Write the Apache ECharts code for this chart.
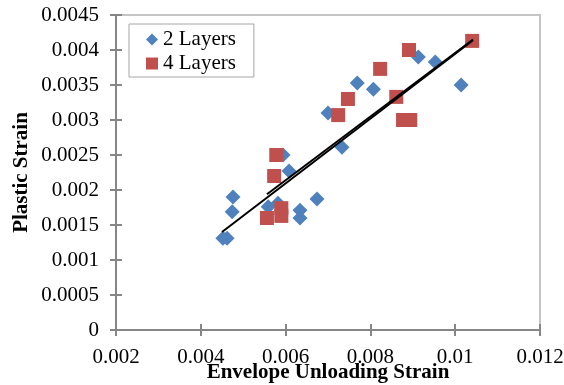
<!DOCTYPE html>
<html>
<head>
<meta charset="utf-8">
<script src="https://cdn.jsdelivr.net/npm/echarts@6/dist/echarts.min.js"></script>
<style>
  html, body { margin: 0; padding: 0; background: #fff; }
  #chart { width: 564px; height: 385px; }
</style>
</head>
<body>
<div id="chart"></div>
<script>
// Envelope unloading strain (x) vs plastic strain (y)
const layers2X = [0.00452, 0.00462, 0.00476, 0.00474, 0.00559, 0.00582, 0.00634, 0.00634, 0.00674,
                  0.00594, 0.00608, 0.00700, 0.00733, 0.00769, 0.00807, 0.00913, 0.00953, 0.01014];
const layers2Y = [0.00131, 0.00131, 0.00190, 0.00169, 0.00176, 0.00181, 0.00171, 0.00160, 0.00187,
                  0.00250, 0.00227, 0.00310, 0.00261, 0.00353, 0.00344, 0.00390, 0.00383, 0.00350];

const layers4X = [0.00556, 0.00590, 0.00590, 0.00578, 0.00573, 0.00724, 0.00747, 0.00823, 0.00861,
                  0.00877, 0.00894, 0.00891, 0.01040];
const layers4Y = [0.00160, 0.00174, 0.00163, 0.00250, 0.00220, 0.00307, 0.00330, 0.00373, 0.00333,
                  0.00300, 0.00300, 0.00400, 0.00413];

// Linear trend lines (start and end of each fit)
const trendAllX = [0.00450, 0.01042];
const trendAllY = [0.00140, 0.00414];
const trend4X = [0.00556, 0.01042];
const trend4Y = [0.00194, 0.00415];

const xTicks = { min: 0.002, max: 0.012, step: 0.002 };
const yTicks = { min: 0, max: 0.0045, step: 0.0005 };

const pairs = (xs, ys) => xs.map((x, i) => [x, ys[i]]);
const fmt = v => String(parseFloat(Number(v).toFixed(6)));

const FONT = '"Liberation Serif", "Times New Roman", serif';
const AXIS_GRAY = '#868686';

const chart = echarts.init(document.getElementById('chart'), null, { renderer: 'canvas' });

const baseX = {
  type: 'value', min: xTicks.min, max: xTicks.max, interval: xTicks.step,
  splitLine: { show: false }
};
const baseY = {
  type: 'value', min: yTicks.min, max: yTicks.max, interval: yTicks.step,
  splitLine: { show: false }
};

chart.setOption({
  animation: false,
  backgroundColor: '#fff',
  grid: {
    left: 116, top: 15, right: 24, bottom: 55,
    containLabel: false, outerBoundsMode: 'none',
    show: true, borderColor: '#c4c4c4', borderWidth: 2, backgroundColor: 'transparent'
  },
  legend: {
    orient: 'vertical', left: 129, top: 24,
    padding: [5, 18, 3, 17],
    itemGap: 3, itemWidth: 12, itemHeight: 12,
    borderColor: '#a6a6a6', borderWidth: 1, backgroundColor: '#fff',
    textStyle: { fontFamily: FONT, fontSize: 21, color: '#000', lineHeight: 21 },
    data: [
      { name: '2 Layers', icon: 'diamond' },
      { name: '4 Layers', icon: 'rect' }
    ]
  },
  xAxis: [
    Object.assign({}, baseX, {
      position: 'bottom',
      name: 'Envelope Unloading Strain', nameLocation: 'middle', nameGap: 32,
      nameMoveOverlap: false,
      nameTextStyle: { fontFamily: FONT, fontSize: 21, fontWeight: 'bold', color: '#000' },
      axisLine: { show: true, lineStyle: { color: AXIS_GRAY, width: 2 } },
      axisTick: { show: true, inside: false, length: 6, lineStyle: { color: AXIS_GRAY, width: 2 } },
      axisLabel: { fontFamily: FONT, fontSize: 21, color: '#000', margin: 17, formatter: fmt }
    }),
    Object.assign({}, baseX, {
      position: 'bottom',
      axisLine: { show: false },
      axisTick: { show: true, inside: true, length: 6, lineStyle: { color: AXIS_GRAY, width: 2 } },
      axisLabel: { show: false }
    })
  ],
  yAxis: [
    Object.assign({}, baseY, {
      position: 'left',
      name: 'Plastic Strain', nameLocation: 'middle', nameGap: 84,
      nameMoveOverlap: false,
      nameTextStyle: { fontFamily: FONT, fontSize: 21, fontWeight: 'bold', color: '#000' },
      axisLine: { show: true, lineStyle: { color: AXIS_GRAY, width: 2 } },
      axisTick: { show: true, inside: false, length: 6, lineStyle: { color: AXIS_GRAY, width: 2 } },
      axisLabel: { fontFamily: FONT, fontSize: 21, color: '#000', margin: 17, formatter: fmt }
    }),
    Object.assign({}, baseY, {
      position: 'left',
      axisLine: { show: false },
      axisTick: { show: true, inside: true, length: 6, lineStyle: { color: AXIS_GRAY, width: 2 } },
      axisLabel: { show: false }
    })
  ],
  series: [
    {
      name: '2 Layers', type: 'scatter', symbol: 'diamond', symbolSize: 15,
      itemStyle: { color: '#4F81BD', opacity: 1 }, z: 3,
      data: pairs(layers2X, layers2Y)
    },
    {
      name: '4 Layers', type: 'scatter', symbol: 'rect', symbolSize: 14,
      itemStyle: { color: '#C0504D', opacity: 1 }, z: 4,
      data: pairs(layers4X, layers4Y)
    },
    {
      name: 'trendAll', type: 'line', showSymbol: false, symbol: 'none', z: 5,
      lineStyle: { color: '#000', width: 2 },
      data: pairs(trendAllX, trendAllY)
    },
    {
      name: 'trend4', type: 'line', showSymbol: false, symbol: 'none', z: 5,
      lineStyle: { color: '#000', width: 2 },
      data: pairs(trend4X, trend4Y)
    }
  ]
});
</script>
</body>
</html>
